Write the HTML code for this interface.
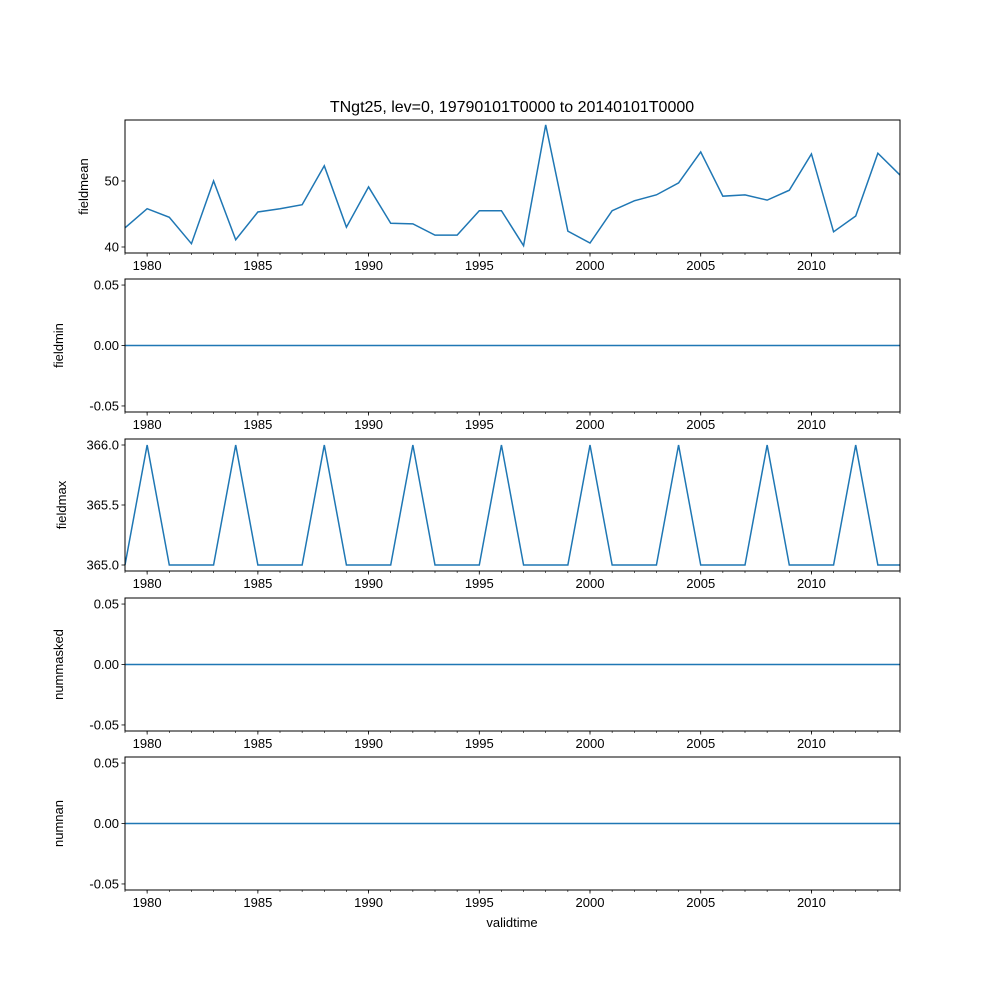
<!DOCTYPE html>
<html><head><meta charset="utf-8"><style>
body{margin:0;background:#fff;}
svg{display:block;font-family:"Liberation Sans","DejaVu Sans",sans-serif;}
</style></head><body>
<svg id="chart" width="1000" height="1000"></svg>
<script>
const years = [];
for (let y = 1979; y <= 2014; y++) years.push(y);
const fieldmean = [42.9,45.8,44.5,40.5,50.0,41.1,45.3,45.8,46.4,52.3,43.0,49.1,43.6,43.5,41.8,41.8,45.5,45.5,40.2,58.5,42.4,40.6,45.5,47.0,47.9,49.7,54.4,47.7,47.9,47.1,48.6,54.1,42.3,44.7,54.2,50.9];
const fieldmin = years.map(() => 0);
const fieldmax = [365,366,365,365,365,366,365,365,365,366,365,365,365,366,365,365,365,366,365,365,365,366,365,365,365,366,365,365,365,366,365,365,365,366,365,365];
const nummasked = years.map(() => 0);
const numnan = years.map(() => 0);
const xTicks = [1980,1985,1990,1995,2000,2005,2010];
const panels = [
 {name:'fieldmean', data:fieldmean, top:120, bot:253, ymin:39.09, ymax:59.24, ticks:[40,50], fmt:v=>String(v), lx:88},
 {name:'fieldmin', data:fieldmin, top:279, bot:412, ymin:-0.055, ymax:0.055, ticks:[-0.05,0,0.05], fmt:v=>v.toFixed(2), lx:63},
 {name:'fieldmax', data:fieldmax, top:439, bot:571, ymin:364.95, ymax:366.05, ticks:[365,365.5,366], fmt:v=>v.toFixed(1), lx:66},
 {name:'nummasked', data:nummasked, top:598, bot:731, ymin:-0.055, ymax:0.055, ticks:[-0.05,0,0.05], fmt:v=>v.toFixed(2), lx:63},
 {name:'numnan', data:numnan, top:757, bot:890, ymin:-0.055, ymax:0.055, ticks:[-0.05,0,0.05], fmt:v=>v.toFixed(2), lx:63}
];
const L=125,R=900;
const svg=document.getElementById('chart');
const NS='http://www.w3.org/2000/svg';
function mk(tag,attrs,parent){const e=document.createElementNS(NS,tag);for(const k in attrs)e.setAttribute(k,attrs[k]);(parent||svg).appendChild(e);return e;}
const xs=y=>L+(y-1979)/(2014-1979)*(R-L);
const title=mk('text',{x:512,y:112,'text-anchor':'middle','font-size':16});


title.textContent='TNgt25, lev=0, 19790101T0000 to 20140101T0000';
panels.forEach(p=>{
  const g=mk('g',{});
  
  
  const ys=v=>p.bot-(v-p.ymin)/(p.ymax-p.ymin)*(p.bot-p.top);
  const pts=p.data.map((v,i)=>xs(years[i]).toFixed(2)+','+ys(v).toFixed(2)).join(' ');
  const line=mk('polyline',{points:pts,fill:'none',stroke:'#1f77b4','stroke-width':1.5},g);
  
  
  const fr=mk('rect',{x:L,y:p.top,width:R-L,height:p.bot-p.top,fill:'none',stroke:'#000','stroke-width':1},g);
  
  
  years.forEach(y=>{mk('line',{x1:xs(y),x2:xs(y),y1:p.bot,y2:p.bot+2,stroke:'#000','stroke-width':0.6},g);});
  xTicks.forEach(y=>{
    mk('line',{x1:xs(y),x2:xs(y),y1:p.bot,y2:p.bot+3.5,stroke:'#000','stroke-width':0.8},g);
    const t=mk('text',{x:xs(y),y:p.bot+17,'text-anchor':'middle','font-size':13},g);
    
    
    t.textContent=y;
  });
  p.ticks.forEach(v=>{
    mk('line',{x1:L-3.5,x2:L,y1:ys(v),y2:ys(v),stroke:'#000','stroke-width':0.8},g);
    const t=mk('text',{x:L-6,y:ys(v)+4.5,'text-anchor':'end','font-size':13},g);
    
    
    t.textContent=p.fmt(v);
  });
  const cy=(p.top+p.bot)/2;
  const yl=mk('text',{x:0,y:0,'text-anchor':'middle','font-size':13,transform:`translate(${p.lx},${cy}) rotate(-90)`},g);
  
  
  yl.textContent=p.name;
});
const xl=mk('text',{x:512,y:930,'text-anchor':'middle','font-size':13});
xl.setAttribute('y',927);


xl.textContent='validtime';
</script>
</body></html>
